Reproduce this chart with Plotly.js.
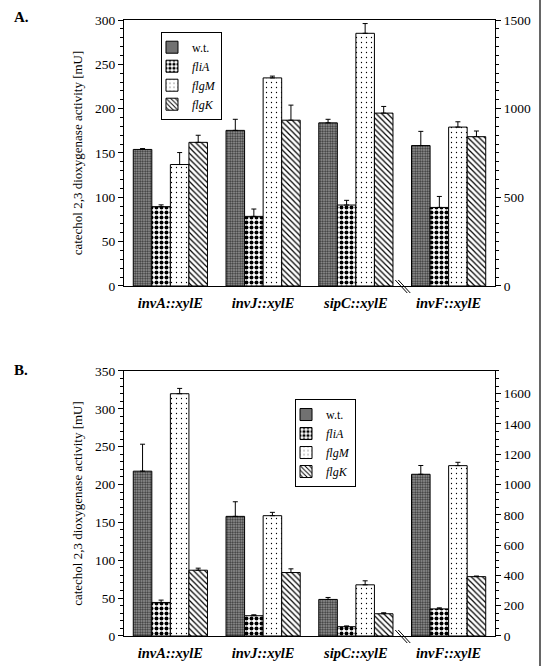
<!DOCTYPE html>
<html>
<head>
<meta charset="utf-8">
<script src="https://cdn.plot.ly/plotly-3.0.1.min.js"></script>
<style>html,body{margin:0;padding:0;background:#fff;}#chart{width:543px;height:666px;}</style>
</head>
<body>
<div id="chart"></div>
<script>
// Categories (reporter fusions); the last one is read on the right-hand axis
const categories = ['invA::xylE', 'invJ::xylE', 'sipC::xylE', 'invF::xylE'];
const seriesNames = ['w.t.', 'fliA', 'flgM', 'flgK'];

// Panel A: values [mU]; invF value is in right-axis units
const wtA      = [154, 175.5, 184, 792];
const wtA_err  = [1, 12.5, 4, 80];
const fliA_A   = [89.5, 78.5, 91.3, 443];
const fliA_Aerr= [2, 8.3, 5.3, 62];
const flgM_A   = [137, 234.7, 285, 896];
const flgM_Aerr= [13.5, 2, 11, 30];
const flgK_A   = [162, 187, 195, 842];
const flgK_Aerr= [8, 17, 7.5, 32];

// Panel B
const wtB      = [217.7, 158, 48.3, 1068];
const wtB_err  = [35.6, 19.3, 2.6, 58];
const fliA_B   = [44.3, 26.8, 12.3, 179];
const fliA_Berr= [3.1, 1.2, 1, 7];
const flgM_B   = [320, 158.9, 67.6, 1125];
const flgM_Berr= [7, 4.4, 5.3, 22];
const flgK_B   = [86.9, 83.8, 29.4, 392];
const flgK_Berr= [2.7, 4.9, 1.3, 4];

const FONT = 'Liberation Serif, Times New Roman, serif';

const styles = [
  {shape: '.', fgcolor: '#333', bgcolor: '#a2a2a2', size: 2.5, solidity: 0.5},
  {shape: '.', fgcolor: '#000', bgcolor: '#fff', size: 5, solidity: 0.5},
  {shape: '.', fgcolor: '#000', bgcolor: '#fff', size: 5, solidity: 0.05},
  {shape: '\\', fgcolor: '#000', bgcolor: '#fff', size: 4, solidity: 0.3}
];
const legendNames = ['w.t.', '<i>fliA</i>', '<i>flgM</i>', '<i>flgK</i>'];

function buildPanel(valsList, errsList, xa, yaL, yaR, legendId) {
  const out = [];
  valsList.forEach((vals, i) => {
    const errs = errsList[i];
    const common = {
      type: 'bar',
      width: 0.2,
      offset: -0.4 + 0.2 * i,
      marker: {color: styles[i].bgcolor, line: {color: '#000', width: 1}, pattern: styles[i]},
      name: legendNames[i],
      legendgroup: seriesNames[i] + legendId,
      legend: legendId,
      hoverinfo: 'skip'
    };
    out.push(Object.assign({}, common, {
      x: categories.slice(0, 3), y: vals.slice(0, 3),
      xaxis: xa, yaxis: yaL, showlegend: true,
      error_y: {type: 'data', symmetric: false, array: errs.slice(0, 3), arrayminus: [0, 0, 0], color: '#000', thickness: 1, width: 2.5}
    }));
    out.push(Object.assign({}, common, {
      x: categories.slice(3), y: vals.slice(3),
      xaxis: xa, yaxis: yaR, showlegend: false,
      error_y: {type: 'data', symmetric: false, array: errs.slice(3), arrayminus: [0], color: '#000', thickness: 1, width: 2.5}
    }));
  });
  return out;
}

const data = [].concat(
  buildPanel([wtA, fliA_A, flgM_A, flgK_A], [wtA_err, fliA_Aerr, flgM_Aerr, flgK_Aerr], 'x', 'y', 'y2', 'legend'),
  buildPanel([wtB, fliA_B, flgM_B, flgK_B], [wtB_err, fliA_Berr, flgM_Berr, flgK_Berr], 'x2', 'y3', 'y4', 'legend2')
);

const tickFont = {family: FONT, size: 13.5, color: '#000'};
const xCommon = {
  type: 'category', categoryorder: 'array', categoryarray: categories,
  range: [-0.5, 3.5], showline: true, linecolor: '#000', linewidth: 1, mirror: true,
  ticks: 'outside', ticklen: 4, tickcolor: 'rgba(0,0,0,0)', showgrid: false, zeroline: false,
  tickfont: {family: FONT, size: 14.5, color: '#000', weight: 'bold', style: 'italic'},
  domain: [0, 1], fixedrange: true
};
function yAx(range, dtick, mdtick, side, domain, extra) {
  return Object.assign({
    range: range, dtick: dtick, tick0: 0, showline: true, linecolor: '#000', linewidth: 1,
    ticks: 'outside', ticklen: 5, tickcolor: '#000', tickwidth: 1,
    minor: {dtick: mdtick, tick0: 0, ticks: 'outside', ticklen: 3, tickcolor: '#000', tickwidth: 1, showgrid: false},
    showgrid: false, zeroline: false, tickfont: tickFont, side: side, domain: domain, fixedrange: true
  }, extra || {});
}
const yTitle = {text: 'catechol 2,3 dioxygenase activity [mU]', font: {family: FONT, size: 13, color: '#000'}, standoff: 9};
const domA = [0.5682, 1];
const domB = [0, 0.4302];

function breakMarks(yAnchor) {
  return [0, 3].map(dx => ({
    type: 'line', xref: 'paper', yref: 'paper',
    xsizemode: 'pixel', ysizemode: 'pixel', xanchor: 0.75, yanchor: yAnchor,
    x0: -7 + dx, x1: 5 + dx, y0: 6, y1: -7,
    line: {color: '#000', width: 1}
  }));
}

const legendCommon = {xanchor: 'left', yanchor: 'top', bgcolor: '#fff', bordercolor: '#000', borderwidth: 1,
  font: {family: FONT, size: 12, color: '#000'}, itemwidth: 30, tracegroupgap: 0, traceorder: 'normal', indentation: -10};

const layout = {
  width: 543, height: 666,
  margin: {l: 124, r: 48, t: 20, b: 30},
  paper_bgcolor: '#fff', plot_bgcolor: '#fff',
  barmode: 'overlay',
  showlegend: true,
  font: {family: FONT, color: '#000'},
  xaxis: Object.assign({}, xCommon, {anchor: 'y'}),
  xaxis2: Object.assign({}, xCommon, {anchor: 'y3'}),
  yaxis: yAx([0, 300], 50, 10, 'left', domA, {anchor: 'x', title: yTitle}),
  yaxis2: yAx([0, 1500], 500, 50, 'right', domA, {anchor: 'x', overlaying: 'y'}),
  yaxis3: yAx([0, 350], 50, 10, 'left', domB, {anchor: 'x2', title: yTitle}),
  yaxis4: yAx([0, 1750], 200, 50, 'right', domB, {anchor: 'x2', overlaying: 'y3'}),
  legend: Object.assign({}, legendCommon, {x: 0.0997, y: 0.981}),
  legend2: Object.assign({}, legendCommon, {x: 0.461, y: 0.3847}),
  annotations: [
    {text: '<b>A.</b>', xref: 'paper', yref: 'paper', x: -0.3019, y: 1.0049, xanchor: 'left', yanchor: 'middle', showarrow: false, font: {family: FONT, size: 15, color: '#000'}},
    {text: '<b>B.</b>', xref: 'paper', yref: 'paper', x: -0.3019, y: 0.4318, xanchor: 'left', yanchor: 'middle', showarrow: false, font: {family: FONT, size: 15, color: '#000'}}
  ],
  shapes: [].concat(breakMarks(0.5682), breakMarks(0), [
    {type: 'line', xref: 'paper', yref: 'paper', x0: 1.1213, x1: 1.1213, y0: -0.0487, y1: 1.0325, line: {color: '#333', width: 1.5}}
  ])
};

Plotly.newPlot('chart', data, layout, {staticPlot: true, displayModeBar: false});
</script>
</body>
</html>
